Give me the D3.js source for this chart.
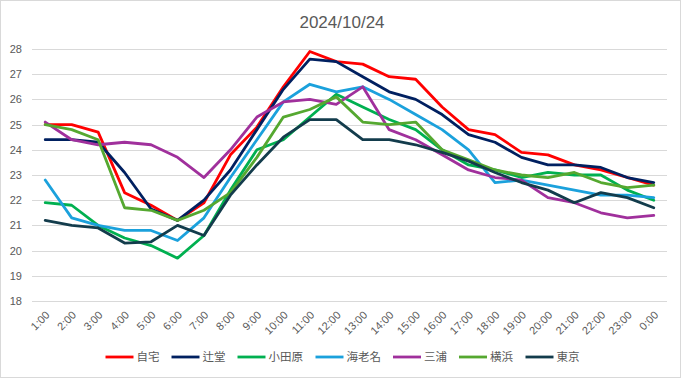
<!DOCTYPE html>
<html><head><meta charset="utf-8">
<script src="https://cdn.jsdelivr.net/npm/d3@7"></script>
<style>
html,body{margin:0;padding:0;background:#fff;}
svg{display:block;}
</style></head>
<body>
<svg id="chart" width="681" height="378"></svg>
<script>
const title = "2024/10/24";
const hours = ["1:00","2:00","3:00","4:00","5:00","6:00","7:00","8:00","9:00","10:00","11:00","12:00","13:00","14:00","15:00","16:00","17:00","18:00","19:00","20:00","21:00","22:00","23:00","0:00"];
const yTicks = [18,19,20,21,22,23,24,25,26,27,28];
const seriesNames = ["自宅","辻堂","小田原","海老名","三浦","横浜","東京"];
const seriesColors = ["#FF0000","#002060","#00B050","#1BA1DC","#A0309C","#55A830","#133C4C"];
const jitaku   = [25.0,25.0,24.7,22.3,21.8,21.2,21.9,23.8,24.9,26.5,27.9,27.5,27.4,26.9,26.8,25.7,24.8,24.6,23.9,23.8,23.4,23.2,22.9,22.6];
const tsujido  = [24.4,24.4,24.3,23.1,21.65,21.2,22.0,23.2,24.8,26.4,27.6,27.5,26.9,26.3,26.0,25.4,24.6,24.3,23.7,23.4,23.4,23.3,22.9,22.7];
const odawara  = [21.9,21.8,21.0,20.5,20.2,19.7,20.6,22.4,24.0,24.4,25.3,26.2,25.7,25.2,24.8,24.0,23.4,23.2,22.9,23.1,23.0,23.0,22.4,22.0];
const ebina    = [22.8,21.3,21.0,20.8,20.8,20.4,21.3,22.9,24.4,25.9,26.6,26.3,26.5,26.0,25.4,24.8,24.0,22.7,22.8,22.6,22.4,22.2,22.2,22.1];
const miura    = [25.1,24.4,24.2,24.3,24.2,23.7,22.9,24.0,25.3,25.9,26.0,25.8,26.5,24.8,24.4,23.8,23.2,22.9,22.8,22.1,21.9,21.5,21.3,21.4];
const yokohama = [25.0,24.8,24.4,21.7,21.6,21.2,21.6,22.3,23.7,25.3,25.6,26.1,25.1,25.0,25.1,24.0,23.6,23.2,23.0,22.9,23.1,22.7,22.5,22.6];
const tokyo    = [21.2,21.0,20.9,20.3,20.35,21.0,20.6,22.2,23.4,24.5,25.2,25.2,24.4,24.4,24.2,23.9,23.55,23.1,22.7,22.4,21.9,22.3,22.1,21.7];
const seriesValues = [jitaku,tsujido,odawara,ebina,miura,yokohama,tokyo];

const svg = d3.select("#chart");
const W = 681, H = 378;
const latin = "'Liberation Sans', Arial, sans-serif";
const cjk = "'Liberation Sans','Noto Sans CJK JP', sans-serif";
const textColor = "#595959";

svg.append("rect").attr("x",0.5).attr("y",0.5).attr("width",W-1).attr("height",H-1)
  .attr("fill","#fff").attr("stroke","#D9D9D9");

const x = d3.scalePoint().domain(hours).range([32,667]).padding(0.5);
const y = d3.scaleLinear().domain([18,28]).range([301,49]);

// gridlines
svg.append("g").selectAll("line").data(yTicks).join("line")
  .attr("x1",32).attr("x2",667)
  .attr("y1",d=>Math.round(y(d))+0.5).attr("y2",d=>Math.round(y(d))+0.5)
  .attr("stroke","#D9D9D9").attr("stroke-width",1);

// y axis labels
const yAxis = d3.axisLeft(y).tickValues(yTicks).tickSize(0).tickPadding(0).tickFormat(d3.format("d"));
const gy = svg.append("g").attr("transform","translate(22,0)").call(yAxis);
gy.select(".domain").remove();
gy.selectAll("text").attr("fill",textColor).attr("font-size","11px").attr("font-family",latin);

// x axis labels
const xAxis = d3.axisBottom(x).tickSize(0).tickPadding(0);
const gx = svg.append("g").attr("transform","translate(0,311)").call(xAxis);
gx.select(".domain").remove();
gx.selectAll("text")
  .attr("fill",textColor).attr("font-size","11px").attr("font-family",latin)
  .attr("text-anchor","end").attr("dy","0.35em").attr("y",0)
  .attr("transform","translate(2,2) rotate(-45)");

// lines
const line = d3.line().x((d,i)=>x(hours[i])).y(d=>y(d));
svg.append("g").selectAll("path").data(seriesValues).join("path")
  .attr("d",d=>line(d)).attr("fill","none")
  .attr("stroke",(d,i)=>seriesColors[i]).attr("stroke-width",2.8)
  .attr("stroke-linejoin","round").attr("stroke-linecap","round");

// title
svg.append("text").attr("x",342).attr("y",28).attr("text-anchor","middle")
  .attr("fill",textColor).attr("font-size","17px").attr("font-family",latin).text(title);

// legend
const lg = svg.append("g");
const items = lg.selectAll("g").data(seriesNames).join("g");
items.append("line").attr("x1",0).attr("x2",28).attr("y1",0).attr("y2",0)
  .attr("stroke",(d,i)=>seriesColors[i]).attr("stroke-width",2.8);
items.append("text").attr("x",31).attr("y",0).attr("dy","0.36em")
  .attr("fill",textColor).attr("font-size","11.5px").attr("font-family",cjk).text(d=>d);
let widths = [];
items.each(function(){ widths.push(this.getBBox().width); });
const gap = 12;
const total = d3.sum(widths) + gap*(widths.length-1);
let cx = 342.5 - total/2;
items.attr("transform",(d,i)=>{ const t = `translate(${cx},357)`; cx += widths[i]+gap; return t; });
</script>
</body></html>
